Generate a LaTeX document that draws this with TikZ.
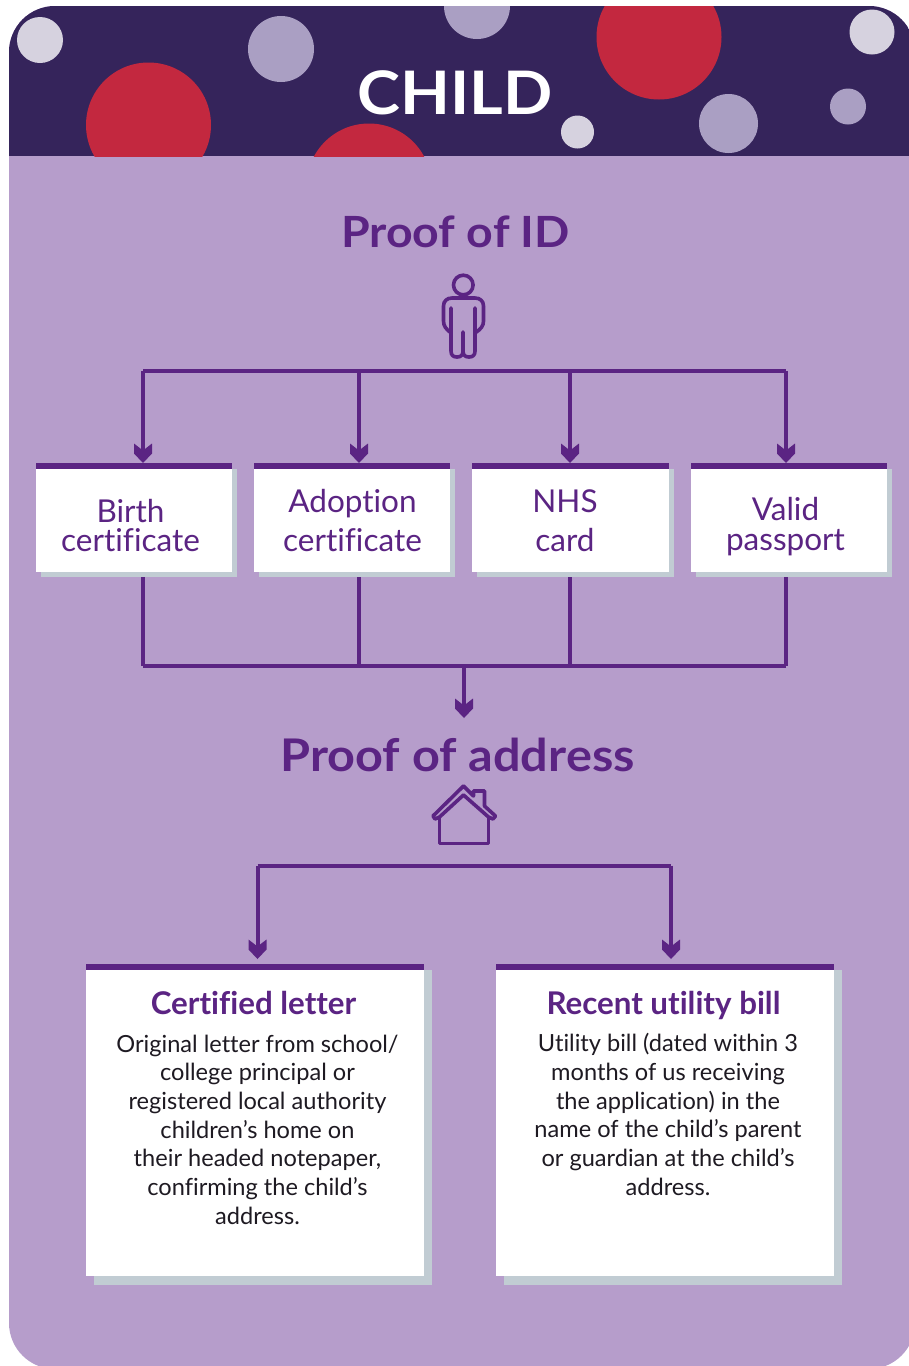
\documentclass[tikz,border=0pt]{standalone}
\usepackage{fontspec}
\setmainfont{Lato}[Ligatures={NoCommon}]
\newfontfamily\titlefont{Lato}[Ligatures={NoCommon},FakeStretch=1.08]
\usetikzlibrary{arrows.meta}
\definecolor{panel}{HTML}{B69DCB}
\definecolor{band}{HTML}{35245B}
\definecolor{dotred}{HTML}{C3283F}
\definecolor{dotlilac}{HTML}{AA9FC3}
\definecolor{dotpale}{HTML}{D6D2DF}
\definecolor{ink}{HTML}{5B2483}
\definecolor{shade}{HTML}{C1CCD3}
\definecolor{bodyink}{HTML}{1E1A22}
\pgfdeclarearrow{
  name=Chev,
  setup code={\pgfarrowssettipend{0pt}\pgfarrowssetlineend{-9pt}\pgfarrowssetbackend{-19pt}\pgfarrowssetvisualbackend{-12pt}},
  drawing code={
    \pgfpathmoveto{\pgfpoint{0pt}{0pt}}
    \pgfpathlineto{\pgfpoint{-9.5pt}{9pt}}
    \pgfpathlineto{\pgfpoint{-19.5pt}{9pt}}
    \pgfpathlineto{\pgfpoint{-12.5pt}{0pt}}
    \pgfpathlineto{\pgfpoint{-19.5pt}{-9pt}}
    \pgfpathlineto{\pgfpoint{-9.5pt}{-9pt}}
    \pgfpathclose
    \pgfusepathqfill
  }
}
\tikzset{
  x=1pt,y=-1pt,
  link/.style={draw=ink,line width=4pt},
  linkarrow/.style={link,-{Chev}},
  icon/.style={draw=ink,line width=3.6pt,line cap=round,line join=round},
  whitebox/.style={fill=white},
  topbar/.style={fill=ink},
  shadow/.style={fill=shade},
  heading/.style={font=\titlefont\fontsize{#1}{50}\selectfont\bfseries,text=ink,inner sep=0pt},
  cardname/.style={font=\fontsize{31.5}{39.5}\selectfont,text=ink,inner sep=0pt,align=center},
  cardnametight/.style={font=\fontsize{31.5}{29.5}\selectfont,text=ink,inner sep=0pt,align=center},
  lettertitle/.style={font=\fontsize{31.3}{36}\selectfont\bfseries,text=ink,inner sep=0pt},
  lettertext/.style={font=\fontsize{23.6}{28.7}\selectfont,text=bodyink,inner sep=0pt,align=center},
}
\newcommand{\cardbox}[7]{% x0 y0 x1 y1 bar xoffset yoffset
  \fill[shadow] (#1+#6,#2+#5) rectangle (#3+#6,#4+#7);
  \fill[whitebox] (#1,#2) rectangle (#3,#4);
  \fill[topbar] (#1,#2) rectangle (#3,#2+#5);
}
\begin{document}
\begin{tikzpicture}
\useasboundingbox (0,0) rectangle (909,1366);
\begin{scope}
\clip (0,0) rectangle (909,1366);
\fill[panel,rounded corners=46pt] (9,6) rectangle (915,1369);
\begin{scope}
\clip[rounded corners=46pt] (9,6) rectangle (915,1369);
\clip (0,0) rectangle (909,156);
\fill[band] (0,0) rectangle (909,156);
\fill[dotpale] (40,40) circle (23);
\fill[dotlilac] (281,49) circle (33);
\fill[dotlilac] (477,6) circle (33);
\fill[dotred] (659,37) circle (62.5);
\fill[dotpale] (872,32) circle (22.5);
\fill[dotred] (148.5,125) circle (62.5);
\fill[dotred] (369,186) circle (62.5);
\fill[dotpale] (577.5,132) circle (16.5);
\fill[dotlilac] (728.5,123.5) circle (29.5);
\fill[dotlilac] (848,106.5) circle (18);
\end{scope}
\end{scope}

\node[font=\titlefont\fontsize{60}{70}\selectfont\bfseries,text=white,inner sep=0pt,anchor=base] (title) at (455,114) {CHILD};
\node[heading=43,anchor=base] (idhead) at (455.5,247) {Proof of ID};
\node[heading=45,anchor=base] (addrhead) at (457.5,771.5) {Proof of address};

% person icon
\draw[icon] (463.3,285) circle (9.8);
\draw[icon] (451,333) .. controls (446,329) and (443.5,326) .. (443.5,321) -- (443.5,306) .. controls (443.5,301) and (447,298) .. (452,298) -- (475,298) .. controls (480,298) and (483.5,301) .. (483.5,306) -- (483.5,321) .. controls (483.5,326) and (481,329) .. (475,333);
\draw[icon] (451,308) -- (451,351) .. controls (451,355) and (453,357) .. (457,357) .. controls (461,357) and (463,355) .. (463,351) -- (463,332);
\draw[icon] (475,308) -- (475,351) .. controls (475,355) and (473,357) .. (469,357) .. controls (465,357) and (463,355) .. (463,351);

% house icon
\draw[icon] (463.5,786) -- (433,816) -- (435,819) -- (439.5,817) -- (463.5,795) -- (488.5,817) -- (493,819) -- (495.5,816) -- (484.5,806) -- (484.5,791) -- (473.5,791) -- (473.5,796) -- cycle;
\draw[icon] (439.5,817) -- (439.5,843.5) -- (488.5,843.5) -- (488.5,817);

% cards
\cardbox{36}{463}{232}{572}{5.5}{5}{5}
\cardbox{254}{463}{450}{572}{5.5}{5}{5}
\cardbox{472}{463}{669}{572}{5.5}{5}{5}
\cardbox{691}{463}{887}{572}{5.5}{5}{5}
\cardbox{86}{964}{424}{1276}{6}{8}{9}
\cardbox{496}{964}{834}{1276}{6}{8}{9}

\node[cardnametight] (birth) at (130.5,525.5) {Birth\\certificate};
\node[cardname] (adoption) at (352.5,520.5) {Adoption\\certificate};
\node[cardname] (nhs) at (565,520.5) {NHS\\card};
\node[cardnametight] (valid) at (785.5,526.5) {Valid\\passport};

\node[lettertitle,anchor=base] (certt) at (253.5,1014) {Certified letter};
\node[lettertitle,anchor=base] (recent) at (663.5,1014) {Recent utility bill};
\node[lettertext] (certb) at (257.5,1129.5) {Original letter from school/\\college principal or\\registered local authority\\children’s home on\\their headed notepaper,\\confirming the child’s\\address.};
\node[lettertext] (recentb) at (668,1114.5) {Utility bill (dated within 3\\months of us receiving\\the application) in the\\name of the child’s parent\\or guardian at the child’s\\address.};

% connectors
\coordinate (a1) at (143,371);
\coordinate (a2) at (359,371);
\coordinate (a3) at (570,371);
\coordinate (a4) at (786,371);
\coordinate (a1e) at (143,463);
\coordinate (a2e) at (359,463);
\coordinate (a3e) at (570,463);
\coordinate (a4e) at (786,463);
\coordinate (c1) at (143,666);
\coordinate (c2) at (359,666);
\coordinate (c3) at (570,666);
\coordinate (c4) at (786,666);
\coordinate (c1s) at (143,577);
\coordinate (c2s) at (359,577);
\coordinate (c3s) at (570,577);
\coordinate (c4s) at (786,577);
\coordinate (m) at (464,666);
\coordinate (me) at (464,718);
\coordinate (h1) at (257.5,865.5);
\coordinate (h2) at (671,865.5);
\coordinate (h1e) at (257.5,959);
\coordinate (h2e) at (671,959);

\draw[link,line cap=square] (a1) -- (a4);
\draw[linkarrow] (a1) -- (a1e);
\draw[linkarrow] (a2) -- (a2e);
\draw[linkarrow] (a3) -- (a3e);
\draw[linkarrow] (a4) -- (a4e);
\draw[link,line cap=square] (c1) -- (c4);
\draw[link] (c1s) -- (c1);
\draw[link] (c2s) -- (c2);
\draw[link] (c3s) -- (c3);
\draw[link] (c4s) -- (c4);
\draw[linkarrow] (m) -- (me);
\draw[link,line cap=square] (h1) -- (h2);
\draw[linkarrow] (h1) -- (h1e);
\draw[linkarrow] (h2) -- (h2e);
\end{tikzpicture}
\end{document}
